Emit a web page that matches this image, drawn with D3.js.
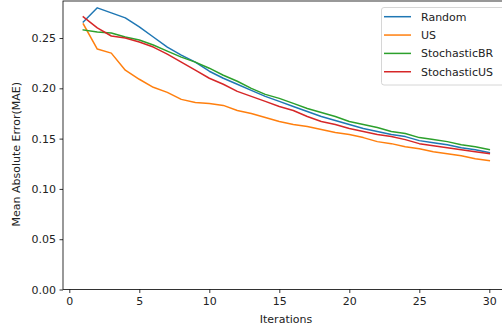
<!DOCTYPE html>
<html><head><meta charset="utf-8">
<script src="https://cdn.jsdelivr.net/npm/d3@7"></script>
<style>body{margin:0;background:#fff}svg{display:block}</style>
</head><body>
<script>
const iterations = d3.range(1, 31);
const seriesNames = ["Random", "US", "StochasticBR", "StochasticUS"];
const seriesColors = ["#1f77b4", "#ff7f0e", "#2ca02c", "#d62728"];
const randomVals = [0.266,0.280,0.275,0.270,0.261,0.251,0.241,0.233,0.226,0.217,0.210,0.204,0.198,0.192,0.187,0.182,0.177,0.172,0.168,0.164,0.160,0.157,0.154,0.152,0.148,0.146,0.144,0.141,0.139,0.136];
const usVals = [0.264,0.239,0.235,0.218,0.209,0.201,0.196,0.189,0.186,0.185,0.183,0.178,0.175,0.171,0.167,0.164,0.162,0.159,0.156,0.154,0.151,0.147,0.145,0.142,0.140,0.137,0.135,0.133,0.130,0.128];
const stochBRVals = [0.258,0.256,0.255,0.251,0.248,0.243,0.237,0.231,0.226,0.220,0.213,0.207,0.200,0.194,0.190,0.185,0.180,0.176,0.172,0.167,0.164,0.161,0.157,0.155,0.151,0.149,0.147,0.144,0.142,0.139];
const stochUSVals = [0.271,0.260,0.252,0.250,0.246,0.241,0.234,0.226,0.218,0.210,0.204,0.197,0.192,0.187,0.182,0.178,0.172,0.167,0.164,0.160,0.157,0.154,0.152,0.149,0.145,0.143,0.141,0.139,0.137,0.135];
const xTicks = [0,5,10,15,20,25,30];
const yTicks = [0.00,0.05,0.10,0.15,0.20,0.25];

(function(){
const W = 502, H = 331;
const mLeft = 63, mTop = 1, mBottom = 289.5, mRight = 63 + 31.9*14;
const FS = "11px";
const svg = d3.select("body").append("svg").attr("width", W).attr("height", H)
  .style("font-family", "'DejaVu Sans', sans-serif");

const x = d3.scaleLinear().domain([-0.45, 31.45]).range([mLeft, mRight]);
const y = d3.scaleLinear().domain([0, 0.2868]).range([mBottom, mTop]);

const allSeries = [randomVals, usVals, stochBRVals, stochUSVals];
const line = d3.line().x((d,i)=>x(iterations[i])).y(d=>y(d));
const g = svg.append("g");
allSeries.forEach((vals, k) => {
  g.append("path").datum(vals).attr("d", line).attr("fill","none")
   .attr("stroke", seriesColors[k]).attr("stroke-width", 1.5)
   .attr("stroke-linejoin","round").attr("stroke-linecap","square");
});

svg.append("rect").attr("x", mLeft).attr("y", mTop).attr("width", mRight-mLeft).attr("height", mBottom-mTop)
  .attr("fill","none").attr("stroke","#000").attr("stroke-width",0.8);

const xAxis = svg.append("g").attr("transform",`translate(0,${mBottom})`)
  .call(d3.axisBottom(x).tickValues(xTicks).tickFormat(d3.format("d")).tickSize(3.5).tickPadding(4));
const yAxis = svg.append("g").attr("transform",`translate(${mLeft},0)`)
  .call(d3.axisLeft(y).tickValues(yTicks).tickFormat(d3.format(".2f")).tickSize(3.5).tickPadding(3.5));
[xAxis, yAxis].forEach(a => {
  a.select(".domain").remove();
  a.selectAll("line").attr("stroke","#000").attr("stroke-width",0.8);
  a.selectAll("text").attr("fill","#222").style("font-size",FS).style("font-family","'DejaVu Sans', sans-serif");
});

svg.append("text").attr("x", 286).attr("y", 323).attr("text-anchor","middle").attr("fill","#222")
  .style("font-size",FS).text("Iterations");
svg.append("text").attr("transform", `translate(20,${(mTop+mBottom)/2+9}) rotate(-90)`).attr("text-anchor","middle").attr("fill","#222")
  .style("font-size",FS).text("Mean Absolute Error(MAE)");

const lg = svg.append("g");
lg.append("rect").attr("x", 381.5).attr("y", 7.5).attr("width", 130).attr("height", 77.5).attr("rx", 2.5)
  .attr("fill","#fff").attr("fill-opacity",0.8).attr("stroke","#ccc").attr("stroke-width",0.8);
seriesNames.forEach((n,k) => {
  const yy = 16.7 + k*18.35;
  lg.append("line").attr("x1",384).attr("x2",411).attr("y1",yy).attr("y2",yy)
    .attr("stroke",seriesColors[k]).attr("stroke-width",1.5);
  lg.append("text").attr("x",421).attr("y",yy).attr("dy","0.35em").attr("fill","#222").style("font-size",FS).text(n);
});
})();
</script>
</body></html>
